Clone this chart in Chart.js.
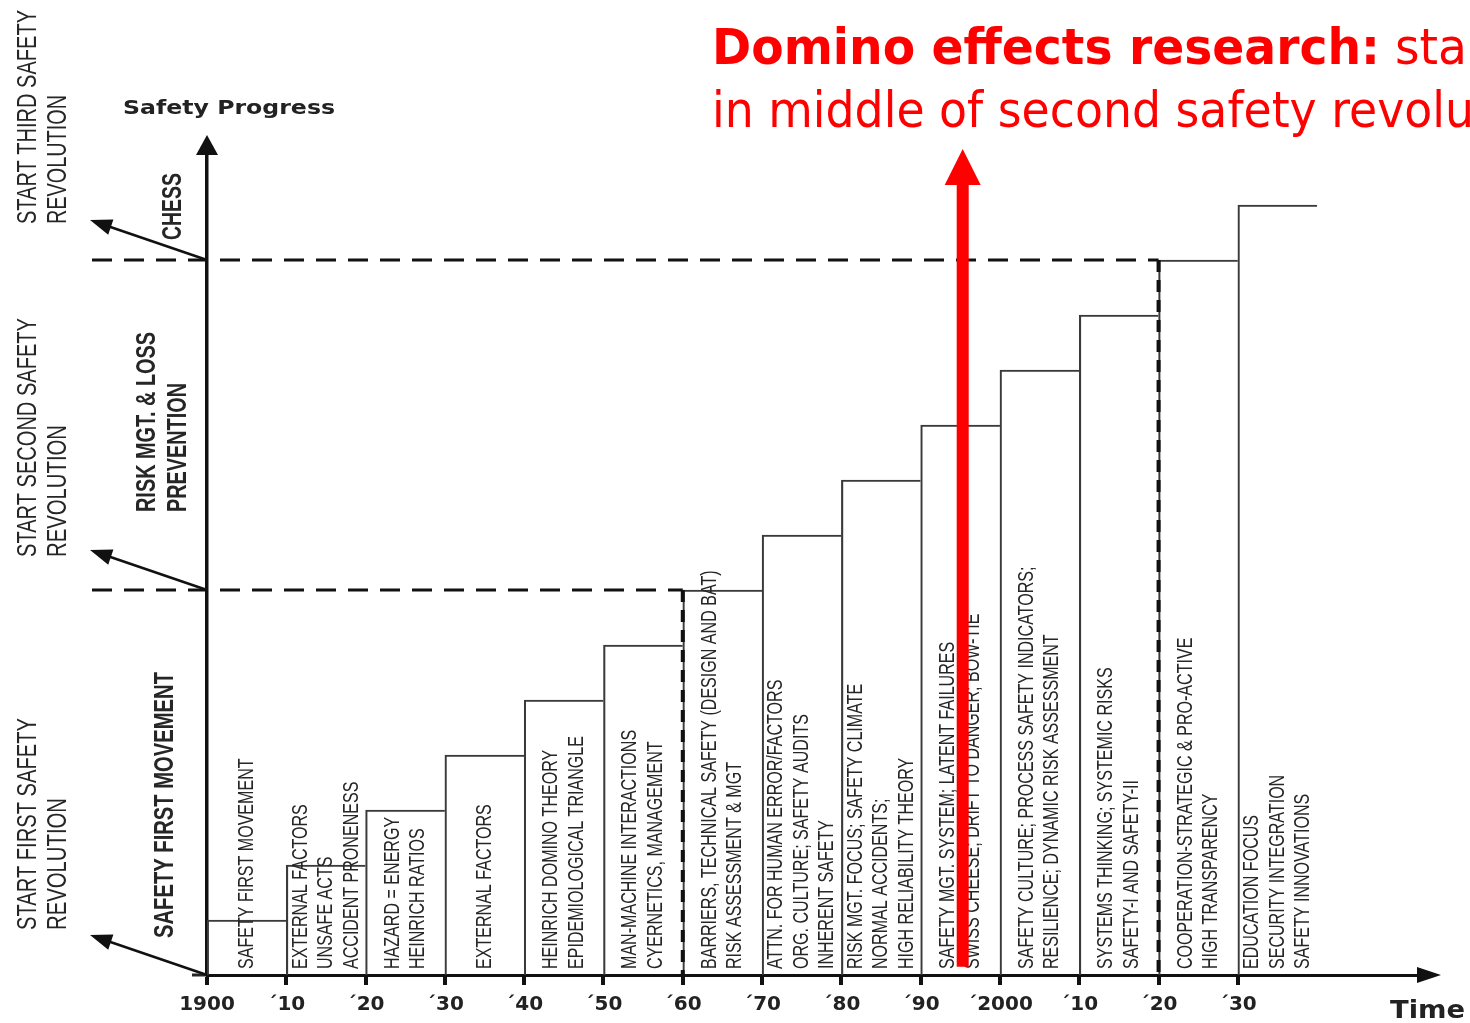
<!DOCTYPE html>
<html>
<head>
<meta charset="utf-8">
<script src="https://cdn.jsdelivr.net/npm/chart.js@4/dist/chart.umd.min.js"></script>
<style>
    html, body { margin: 0; padding: 0; background: #fff; }
    canvas { display: block; }
</style>
</head>
<body>
<canvas id="chart" width="1470" height="1023"></canvas>
<script>
// Steps: one per decade, each a level higher than the one before
const decadeStarts   = [1900, 1910, 1920, 1930, 1940, 1950, 1960, 1970, 1980, 1990, 2000, 2010, 2020, 2030];
const progressLevels = [1, 2, 3, 4, 5, 6, 7, 8, 9, 10, 11, 12, 13, 14];

const tickYears  = [1900, 1910, 1920, 1930, 1940, 1950, 1960, 1970, 1980, 1990, 2000, 2010, 2020, 2030];
const tickLabels = ['1900', '´10', '´20', '´30', '´40', '´50', '´60', '´70', '´80', '´90', '´2000', '´10', '´20', '´30'];

const decadeNotes = [
    ['SAFETY FIRST MOVEMENT'],
    ['EXTERNAL FACTORS', 'UNSAFE ACTS', 'ACCIDENT PRONENESS'],
    ['HAZARD = ENERGY', 'HEINRICH RATIOS'],
    ['EXTERNAL FACTORS'],
    ['HEINRICH DOMINO THEORY', 'EPIDEMIOLOGICAL TRIANGLE'],
    ['MAN-MACHINE INTERACTIONS', 'CYERNETICS, MANAGEMENT'],
    ['BARRIERS, TECHNICAL SAFETY (DESIGN AND BAT)', 'RISK ASSESSMENT & MGT'],
    ['ATTN. FOR HUMAN ERROR/FACTORS', 'ORG. CULTURE; SAFETY AUDITS', 'INHERENT SAFETY'],
    ['RISK MGT. FOCUS; SAFETY CLIMATE', 'NORMAL ACCIDENTS;', 'HIGH RELIABILITY THEORY'],
    ['SAFETY MGT. SYSTEM; LATENT FAILURES', 'SWISS CHEESE; DRIFT TO DANGER; BOW-TIE'],
    ['SAFETY CULTURE; PROCESS SAFETY INDICATORS;', 'RESILIENCE; DYNAMIC RISK ASSESSMENT'],
    ['SYSTEMS THINKING; SYSTEMIC RISKS', 'SAFETY-I AND SAFETY-II'],
    ['COOPERATION-STRATEGIC & PRO-ACTIVE', 'HIGH TRANSPARENCY'],
    ['EDUCATION FOCUS', 'SECURITY INTEGRATION', 'SAFETY INNOVATIONS'],
];

// Safety revolutions: where they start on the time axis and at which level
const revolutionYears  = [1900, 1960, 2020];
const revolutionLevels = [0, 7, 13];
const revolutionLabels = [
    ['START FIRST SAFETY', 'REVOLUTION'],
    ['START SECOND SAFETY', 'REVOLUTION'],
    ['START THIRD SAFETY', 'REVOLUTION'],
];
const eraLabels = [
    ['SAFETY FIRST MOVEMENT'],
    ['RISK MGT. & LOSS', 'PREVENTION'],
    ['CHESS'],
];

const dominoYear   = 1995.3;
const dominoLevels = [0.15, 15];
const titleBold    = 'Domino effects research:';
const titleRest    = ' started';
const titleLine2   = 'in middle of second safety revolution';

const SANS = '"Liberation Sans", Arial, sans-serif';
const WIDE = '"DejaVu Sans", Verdana, sans-serif';
const INK  = '#262626';

function vtext(ctx, str, cx, bottom, px, weight, sx, color) {
    ctx.save();
    ctx.translate(cx, bottom);
    ctx.rotate(-Math.PI / 2);
    ctx.scale(sx, 1);
    ctx.font = `${weight} ${px}px ${SANS}`;
    ctx.fillStyle = color || INK;
    ctx.textAlign = 'left';
    ctx.textBaseline = 'middle';
    ctx.fillText(str, 0, 0);
    ctx.restore();
}

// rotated text squeezed to a given length
function vfit(ctx, str, cx, bottom, px, weight, len) {
    ctx.font = `${weight} ${px}px ${SANS}`;
    const w = ctx.measureText(str).width;
    vtext(ctx, str, cx, bottom, px, weight, len / w);
}

function hfit(ctx, str, x, y, font, len, color, baseline) {
    ctx.save();
    ctx.font = font;
    const sx = len / ctx.measureText(str).width;
    ctx.translate(x, y);
    ctx.scale(sx, 1);
    ctx.fillStyle = color;
    ctx.textAlign = 'left';
    ctx.textBaseline = baseline || 'alphabetic';
    ctx.fillText(str, 0, 0);
    ctx.restore();
    return sx;
}

function arrowHead(ctx, tipX, tipY, angle, len, half) {
    ctx.save();
    ctx.translate(tipX, tipY);
    ctx.rotate(angle);
    ctx.beginPath();
    ctx.moveTo(0, 0);
    ctx.lineTo(-len, -half);
    ctx.lineTo(-len, half);
    ctx.closePath();
    ctx.fill();
    ctx.restore();
}

const decorations = {
    id: 'decorations',
    afterDraw(chart) {
        const { ctx, chartArea: area } = chart;
        const xs = chart.scales.x;
        const ys = chart.scales.y;
        const x0 = xs.getPixelForValue(1900);
        const base = ys.getPixelForValue(0);

        ctx.save();
        ctx.fillStyle = INK;
        ctx.strokeStyle = INK;

        // axis extras: stub left of the origin, arrow heads
        ctx.lineWidth = 3;
        ctx.beginPath();
        ctx.moveTo(x0 - 15, base);
        ctx.lineTo(x0, base);
        ctx.stroke();
        ctx.fillStyle = '#111';
        arrowHead(ctx, area.right + 16, base, 0, 24, 8);
        arrowHead(ctx, x0, area.top - 15, -Math.PI / 2, 20, 11);

        // revolution markers: dashed levels, dashed verticals, diagonal arrows
        revolutionYears.forEach((yr, i) => {
            const y = ys.getPixelForValue(revolutionLevels[i]);
            const xr = xs.getPixelForValue(yr);
            ctx.strokeStyle = '#111';
            if (i > 0) {
                ctx.lineWidth = 3;
                ctx.setLineDash([20, 12]);
                ctx.beginPath();
                ctx.moveTo(area.left - 115, y);
                ctx.lineTo(xr, y);
                ctx.stroke();
                ctx.lineWidth = 4;
                ctx.setLineDash([12, 8]);
                ctx.beginPath();
                ctx.moveTo(xr, y);
                ctx.lineTo(xr, base);
                ctx.stroke();
            }
            ctx.setLineDash([]);
            ctx.lineWidth = 2.5;
            const tx = x0 - 117, ty = y - 40;
            const ang = Math.atan2(ty - y, tx - x0);
            ctx.beginPath();
            ctx.moveTo(x0, y);
            ctx.lineTo(tx - Math.cos(ang) * 10, ty - Math.sin(ang) * 10);
            ctx.stroke();
            arrowHead(ctx, tx, ty, ang, 22, 8);
        });

        // revolution labels (left margin)
        const revBottoms = [930, 557, 224];
        const revLens = [[212, 132], [239, 132], [214, 129]];
        revolutionLabels.forEach((lines, i) => {
            lines.forEach((t, j) => vfit(ctx, t, 28 + j * 30, revBottoms[i], 28, 'normal', revLens[i][j]));
        });

        // era labels next to the y axis
        vfit(ctx, eraLabels[0][0], 165, 938, 28, 'bold', 266);
        vfit(ctx, eraLabels[1][0], 147, 512, 28, 'bold', 180);
        vfit(ctx, eraLabels[1][1], 178, 512, 28, 'bold', 129);
        vfit(ctx, eraLabels[2][0], 173, 240, 28, 'bold', 67);

        // notes inside each decade step
        decadeNotes.forEach((lines, i) => {
            const mid = xs.getPixelForValue(decadeStarts[i] + 5);
            const n = lines.length;
            lines.forEach((t, j) => {
                vtext(ctx, t, mid + (j - (n - 1) / 2) * 25.5, base - 6, 22, 'normal', 0.73);
            });
        });

        // axis titles
        hfit(ctx, 'Safety Progress', 123, 109, `bold 19px ${WIDE}`, 212, '#222', 'middle');
        hfit(ctx, 'Time', 1390, 1012, `bold 24px ${WIDE}`, 75, '#222', 'middle');

        // red domino arrow
        const ax = xs.getPixelForValue(dominoYear);
        const ay0 = ys.getPixelForValue(dominoLevels[0]);
        const ay1 = ys.getPixelForValue(dominoLevels[1]);
        ctx.fillStyle = '#ff0000';
        ctx.fillRect(ax - 6, ay1 + 33, 12, ay0 - ay1 - 33);
        arrowHead(ctx, ax, ay1 - 1, -Math.PI / 2, 36, 18);

        // red heading
        const sx = hfit(ctx, titleBold, 712, 64, `bold 50px ${WIDE}`, 668, '#ff0000');
        ctx.save();
        ctx.font = `50px ${WIDE}`;
        ctx.translate(712 + 668, 64);
        ctx.scale(sx, 1);
        ctx.fillStyle = '#ff0000';
        ctx.fillText(titleRest, 0, 0);
        ctx.restore();
        ctx.font = `50px ${WIDE}`;
        const part = ctx.measureText('in middle of second safety revolu').width;
        ctx.save();
        ctx.translate(712, 127);
        ctx.scale(762 / part, 1);
        ctx.fillStyle = '#ff0000';
        ctx.fillText(titleLine2, 0, 0);
        ctx.restore();

        ctx.restore();
    }
};

new Chart(document.getElementById('chart'), {
    type: 'bar',
    data: {
        datasets: [{
            data: decadeStarts.map((d, i) => ({ x: d + 5, y: progressLevels[i] })),
            backgroundColor: 'rgba(0,0,0,0)',
            borderColor: '#3a3a3a',
            borderWidth: { top: 1.5, left: 1.5, right: 0, bottom: 0 },
            borderSkipped: false,
            barPercentage: 1,
            categoryPercentage: 1,
        }],
    },
    options: {
        responsive: false,
        animation: false,
        layout: { padding: { left: 207, right: 45, top: 150, bottom: 0 } },
        plugins: { legend: { display: false }, tooltip: { enabled: false } },
        scales: {
            x: {
                type: 'linear',
                offset: false,
                min: 1900,
                max: 2053.6,
                afterBuildTicks: s => { s.ticks = tickYears.map(v => ({ value: v })); },
                afterFit: s => { s.height = 48; },
                ticks: {
                    autoSkip: false,
                    maxRotation: 0,
                    padding: 8,
                    color: '#222',
                    font: { family: WIDE, size: 20, weight: 'bold' },
                    callback: v => tickLabels[tickYears.indexOf(v)] ?? '',
                },
                grid: { offset: false, drawOnChartArea: false, drawTicks: true, tickLength: 10, lineWidth: 4, color: '#111' },
                border: { display: true, width: 3, color: '#111' },
            },
            y: {
                min: 0,
                max: 15,
                afterFit: s => { s.width = 0; },
                ticks: { display: false },
                grid: { display: false },
                border: { display: true, width: 3.5, color: '#111' },
            },
        },
    },
    plugins: [decorations],
});
</script>
</body>
</html>
